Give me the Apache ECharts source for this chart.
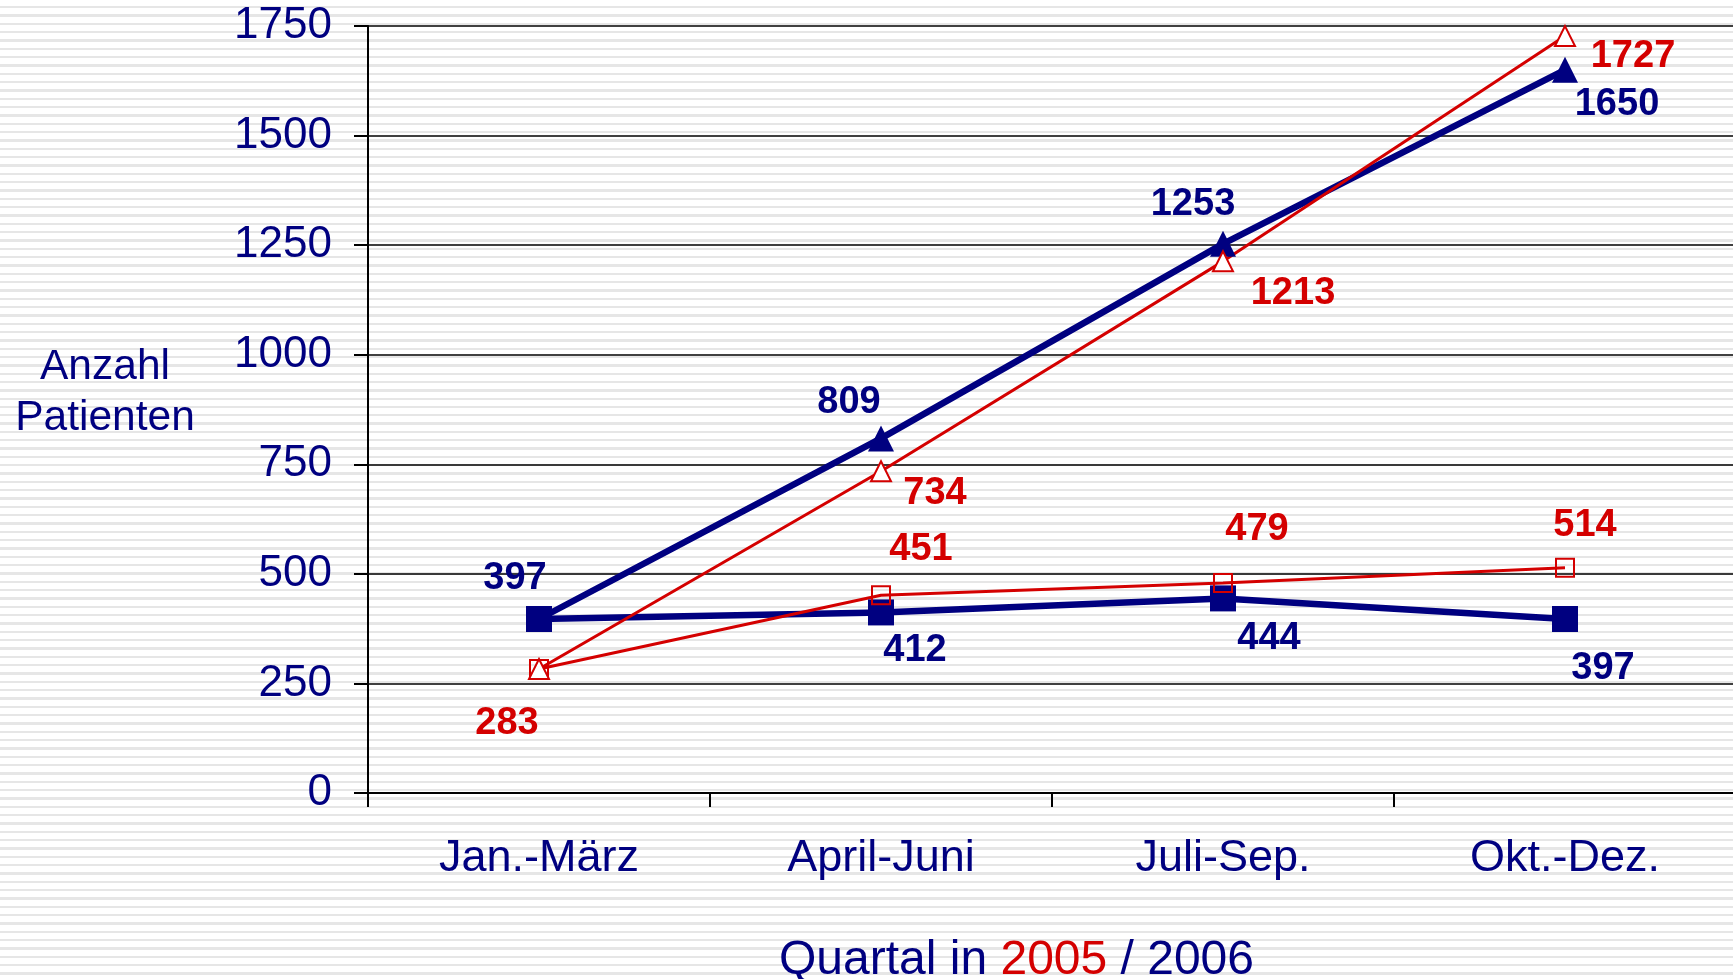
<!DOCTYPE html>
<html>
<head>
<meta charset="utf-8">
<script src="https://cdn.jsdelivr.net/npm/echarts@6/dist/echarts.min.js"></script>
<style>
  html, body { margin: 0; padding: 0; }
  body {
    width: 1733px; height: 979px;
    background: repeating-linear-gradient(to bottom, #ffffff 0px, #ffffff 6px, #e6e6e6 6px, #e6e6e6 8.33px);
  }
  #chart { width: 1733px; height: 979px; }
</style>
</head>
<body>
<div id="chart"></div>
<script>
const quarters = ["Jan.-März", "April-Juni", "Juli-Sep.", "Okt.-Dez."];
const yTicks = [0, 250, 500, 750, 1000, 1250, 1500, 1750];

// 2006 (blue)
const blueSquares = [397, 412, 444, 397];
const blueTriangles = [397, 809, 1253, 1650];
// 2005 (red)
const redSquares = [283, 451, 479, 514];
const redTriangles = [283, 734, 1213, 1727];

// label offsets (px) relative to the point, null = no label
const blueSquareOff = [[-24, -40], [34, 38], [46, 40], [38, 50]];
const blueTriangleOff = [null, [-32, -36], [-30, -39], [52, 35]];
const redSquareOff = [[-32, 55], [40, -46], [34, -54], [20, -42]];
const redTriangleOff = [null, [54, 22], [70, 32], [68, 20]];

const NAVY = "#000080";
const RED = "#d40000";
const FONT = "'Liberation Sans', Arial, sans-serif";

function withLabels(values, offsets) {
  return values.map((v, i) => ({
    value: v,
    label: offsets[i] ? { show: true, offset: offsets[i] } : { show: false }
  }));
}

function lineSeries(name, values, offsets, color, width, symbol, size, fill) {
  return {
    name: name,
    type: "line",
    data: withLabels(values, offsets),
    symbol: symbol,
    symbolSize: size,
    lineStyle: { color: color, width: width },
    itemStyle: { color: fill, borderColor: color, borderWidth: fill === color ? 0 : 2 },
    label: {
      show: true,
      position: "inside",
      color: color,
      fontFamily: FONT,
      fontWeight: "bold",
      fontSize: 38
    },
    emphasis: { disabled: true },
    animation: false
  };
}

const chart = echarts.init(document.getElementById("chart"));
chart.setOption({
  grid: { left: 368, right: -3, top: 26, bottom: 186, outerBoundsMode: "none" },
  title: {
    left: 774,
    top: 932,
    text: "{a|Quartal in }{b|2005}{a| / 2006}",
    textStyle: {
      rich: {
        a: { color: NAVY, fontSize: 48, fontFamily: FONT, fontWeight: "normal" },
        b: { color: RED, fontSize: 48, fontFamily: FONT, fontWeight: "normal" }
      }
    }
  },
  graphic: [{
    type: "text",
    style: {
      text: "Anzahl\nPatienten",
      x: 105, y: 342,
      textAlign: "center",
      fill: NAVY,
      font: "42.5px " + FONT,
      lineHeight: 51
    }
  }],
  xAxis: {
    type: "category",
    data: quarters,
    axisLine: { lineStyle: { color: "#000", width: 2 } },
    axisTick: { show: true, length: 14, lineStyle: { color: "#000", width: 2 } },
    axisLabel: { color: NAVY, fontSize: 45, fontFamily: FONT, margin: 43 }
  },
  yAxis: {
    type: "value",
    min: yTicks[0],
    max: yTicks[yTicks.length - 1],
    interval: 250,
    axisLine: { show: true, lineStyle: { color: "#000", width: 2 } },
    axisTick: { show: true, length: 14, lineStyle: { color: "#000", width: 2 } },
    axisLabel: {
      color: NAVY, fontSize: 44, fontFamily: FONT, margin: 36,
      formatter: (v) => String(v)
    },
    splitLine: { lineStyle: { color: "#000", width: 1.5 } }
  },
  series: [
    lineSeries("2006 b", blueTriangles, blueTriangleOff, NAVY, 6.5, "triangle", 26, NAVY),
    lineSeries("2006 a", blueSquares, blueSquareOff, NAVY, 6.5, "rect", 26, NAVY),
    lineSeries("2005 a", redSquares, redSquareOff, RED, 3, "rect", 18, "rgba(0,0,0,0)"),
    lineSeries("2005 b", redTriangles, redTriangleOff, RED, 3, "triangle", 20, "#ffffff")
  ]
});
</script>
</body>
</html>
